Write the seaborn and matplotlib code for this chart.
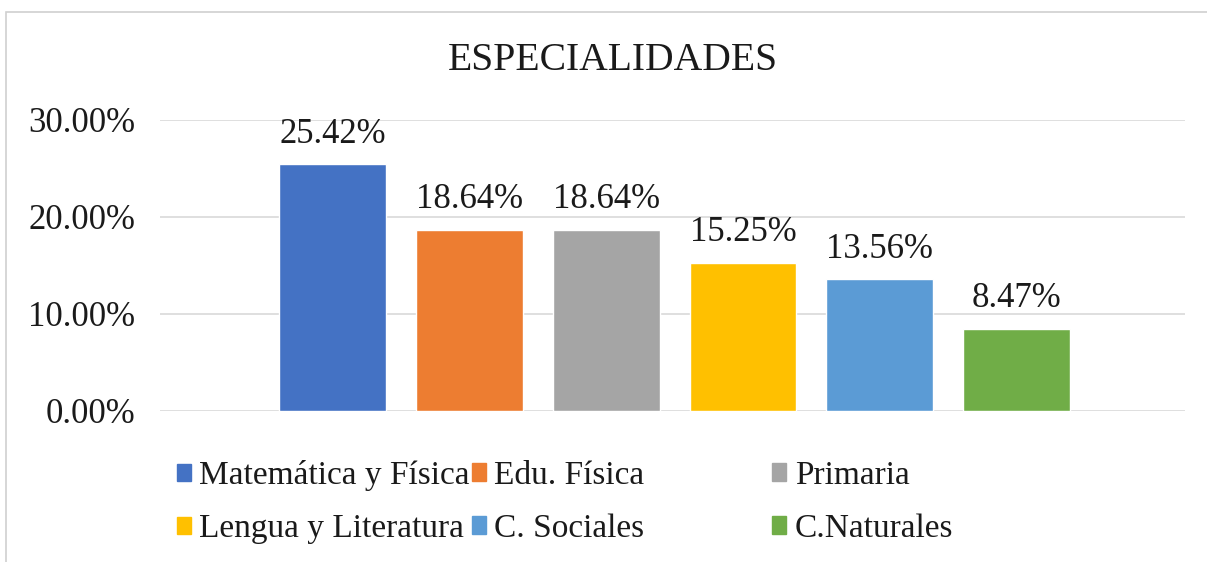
import matplotlib
matplotlib.use("Agg")
import matplotlib.pyplot as plt
import matplotlib.patches as mpatches
import matplotlib.ticker as mticker
import seaborn as sns
import pandas as pd

# datos
especialidades = ["Matemática y Física", "Edu. Física", "Primaria",
                  "Lengua y Literatura", "C. Sociales", "C.Naturales"]
porcentajes = [25.42, 18.64, 18.64, 15.25, 13.56, 8.47]
colores = ["#4472C4", "#ED7D31", "#A5A5A5", "#FFC000", "#5B9BD5", "#70AD47"]
ticks_y = [0, 10, 20, 30]

df = pd.DataFrame({"Especialidad": especialidades, "Porcentaje": porcentajes})

sns.set_theme(style="white")
plt.rcParams["font.family"] = ["Liberation Serif", "DejaVu Serif"]

fig = plt.figure(figsize=(12.07, 5.62), dpi=100)
ax = fig.add_axes([0.1326, 0.2687, 0.8492, 0.5178])

sns.barplot(ax=ax, data=df, x="Especialidad", y="Porcentaje", hue="Especialidad",
            palette=colores, width=0.78, legend=False, saturation=1)

ax.set_xlim(-1.26, 6.23)
ax.set_ylim(0, 30)
ax.set_yticks(ticks_y)
ax.yaxis.set_major_formatter(mticker.FuncFormatter(lambda v, p: f"{v:.2f}%"))
ax.tick_params(axis="y", length=0, pad=18, labelsize=25, labelcolor="#1a1a1a")
ax.set_xticks([])
ax.set_xlabel("")
ax.set_ylabel("")
ax.grid(axis="y", color="#D9D9D9", linewidth=1.2)
ax.set_axisbelow(True)
for s in ax.spines.values():
    s.set_visible(False)

# etiquetas de datos
for cont in ax.containers:
    ax.bar_label(cont, fmt="%.2f%%", padding=10, fontsize=25, color="#1a1a1a")

fig.text(0.508, 0.893, "ESPECIALIDADES", ha="center", va="center",
         fontsize=28.5, color="#1a1a1a")

# leyenda en 3 columnas de ancho igual (como en Excel)
handles = [mpatches.Patch(color=c, label=l) for c, l in zip(colores, especialidades)]
columnas_x = [0.1466, 0.391, 0.640]
orden = [[0, 3], [1, 4], [2, 5]]
for x0, idx in zip(columnas_x, orden):
    leg = fig.legend([handles[i] for i in idx], [especialidades[i] for i in idx],
                     loc="upper left", bbox_to_anchor=(x0, 0.181), frameon=False,
                     fontsize=24, handlelength=0.42, handleheight=0.42,
                     handletextpad=0.25, labelspacing=0.68, borderpad=0,
                     borderaxespad=0)
    for t in leg.get_texts():
        t.set_color("#1a1a1a")

# marco del gráfico
fig.patches.append(mpatches.Rectangle((0.005, -0.01), 1.0, 0.989, transform=fig.transFigure,
                                      fill=False, edgecolor="#D0D0D0", linewidth=1.2))

fig.savefig("out.png", dpi=100)
